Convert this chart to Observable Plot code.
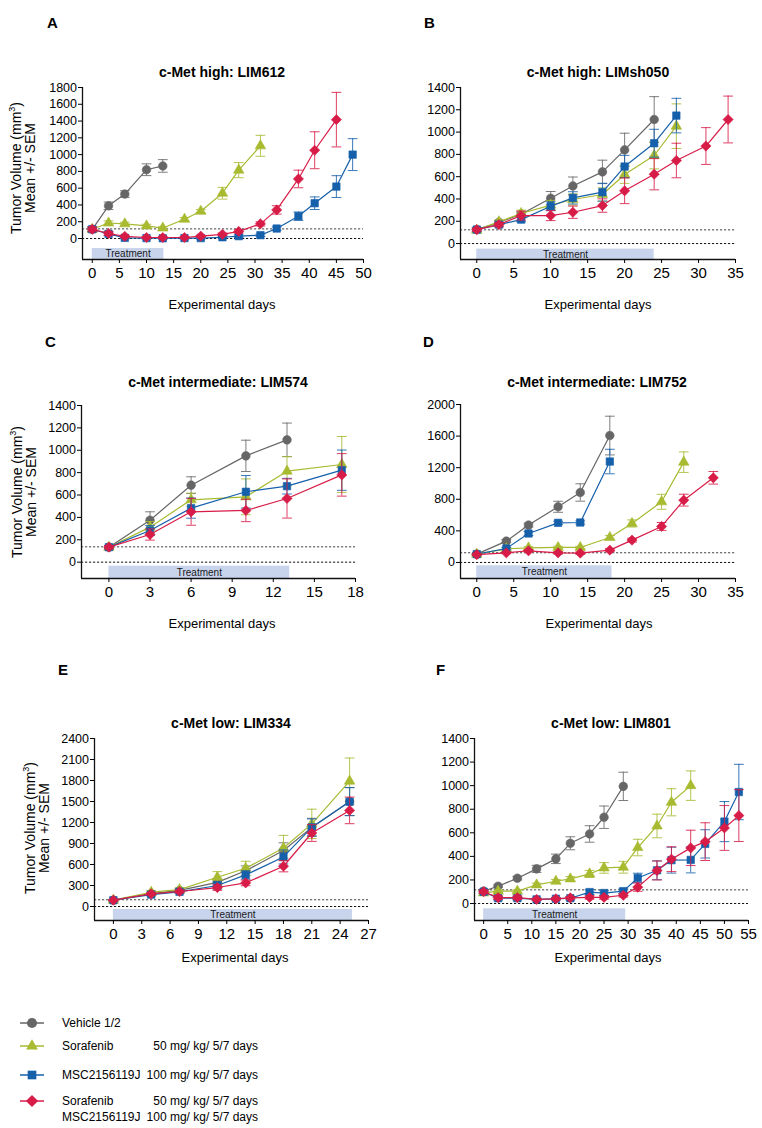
<!DOCTYPE html>
<html><head><meta charset="utf-8">
<script src="https://cdn.jsdelivr.net/npm/d3@7"></script>
<script src="https://cdn.jsdelivr.net/npm/@observablehq/plot@0.6"></script>
<style>
body{margin:0;background:#fff;font-family:"Liberation Sans",Arial,Helvetica,sans-serif;}
#page{position:relative;width:762px;height:1128px;overflow:hidden;background:#fff;}
.abs{position:absolute;white-space:nowrap;color:#000;line-height:1;}
.letter{font-weight:bold;font-size:15px;}
.title{font-weight:bold;font-size:14px;transform:translate(-50%,-50%);}
.xlab{font-size:13px;transform:translate(-50%,-50%);}
.ylab{font-size:14px;line-height:14px;text-align:center;transform:translate(-50%,-50%) rotate(-90deg);}
.ylab sup{font-size:9px;vertical-align:6px;line-height:0;}
.leg{font-size:12px;transform:translateY(-50%);}
.dose{font-size:12px;transform:translate(-100%,-50%);}
</style></head><body><div id="page"></div>
<script>
// ---------- DATA ----------
const seriesNames = ["Vehicle 1/2", "Sorafenib", "MSC2156119J", "Sorafenib + MSC2156119J"];

// Panel A: c-Met high: LIM612
const daysA = [0,3,6,10,13,17,20,24,27,31,34,38,41,45,48];
const vehA = [110,390,530,820,865];
const vehA_sem = [30,45,40,70,75];
const sorA = [110,185,175,150,125,230,325,540,815,1105];
const sorA_sem = [20,25,20,20,15,20,20,70,90,125];
const mscA = [110,55,8,5,3,5,5,15,28,40,119,266,421,619,1000];
const mscA_sem = [25,20,10,10,10,10,10,10,15,15,20,50,75,130,190];
const comA = [110,60,25,12,12,12,28,50,85,175,341,710,1052,1417];
const comA_sem = [30,25,15,10,10,10,10,15,20,25,50,105,220,325];

// Panel B: c-Met high: LIMsh050
const daysB = [0,3,6,10,13,17,20,24,27,31,34];
const vehB = [125,191,263,407,517,643,840,1113];
const vehB_sem = [15,15,20,60,80,105,150,205];
const sorB = [120,195,270,345,395,440,620,790,1053];
const sorB_sem = [15,15,30,40,50,60,80,120,200];
const mscB = [125,170,215,335,410,461,691,900,1148];
const mscB_sem = [15,15,20,40,55,80,100,125,155];
const comB = [125,170,251,251,281,341,473,622,745,875,1113];
const comB_sem = [15,20,40,45,55,60,115,140,155,165,210];

// Panel C: c-Met intermediate: LIM574
const daysC = [0,3,6,10,13,17];
const vehC = [134,375,688,950,1093];
const vehC_sem = [15,75,75,140,150];
const sorC = [134,313,557,584,813,873];
const sorC_sem = [15,50,60,160,130,250];
const mscC = [134,283,483,629,679,822];
const mscC_sem = [15,45,90,145,70,180];
const comC = [134,247,450,462,569,780];
const comC_sem = [15,50,120,100,175,190];

// Panel D: c-Met intermediate: LIM752
const daysD = [0,4,7,11,14,18,21,25,28,32];
const vehD = [105,270,473,705,886,1607];
const vehD_sem = [10,20,25,70,110,245];
const sorD = [105,173,185,190,190,316,494,768,1270];
const sorD_sem = [10,15,15,15,15,25,45,95,130];
const mscD = [105,177,367,502,506,1278];
const mscD_sem = [10,15,25,20,20,155];
const comD = [100,122,148,122,118,156,283,456,789,1072];
const comD_sem = [10,10,15,15,15,20,25,50,75,80];

// Panel E: c-Met low: LIM334
const daysE = [0,4,7,11,14,18,21,25];
const vehE = [90,185,230,345,510,800,1130,1500];
const vehE_sem = [10,20,25,50,70,110,130,200];
const sorE = [90,204,242,418,546,836,1180,1791];
const sorE_sem = [10,25,25,80,100,180,210,330];
const mscE = [90,170,210,300,451,708,1131,1497];
const mscE_sem = [10,20,20,50,60,100,120,200];
const comE = [90,181,214,271,337,575,1050,1373];
const comE_sem = [10,20,20,40,40,80,120,190];

// Panel F: c-Met low: LIM801
const daysF = [0,3,7,11,15,18,22,25,29,32,36,39,43,46,50,53];
const vehF = [105,147,215,294,379,511,590,732,994];
const vehF_sem = [10,10,15,30,40,55,70,95,120];
const sorF = [90,105,105,158,189,209,251,302,308,475,658,859,1000];
const sorF_sem = [10,10,10,15,15,20,30,45,50,70,100,115,125];
const mscF = [100,45,45,35,40,45,97,89,105,217,282,368,370,506,695,946];
const mscF_sem = [15,15,15,10,10,15,20,20,20,40,80,110,110,120,170,235];
const comF = [100,50,50,35,40,48,52,52,70,139,280,376,472,525,641,746];
const comF_sem = [15,15,15,10,10,10,15,15,15,35,80,105,150,160,190,220];

// Panel meta
const panelLetters = ["A","B","C","D","E","F"];
const panelTitles = ["c-Met high: LIM612","c-Met high: LIMsh050","c-Met intermediate: LIM574","c-Met intermediate: LIM752","c-Met low: LIM334","c-Met low: LIM801"];
const xTicksA = [0,5,10,15,20,25,30,35,40,45,50];
const xTicksB = [0,5,10,15,20,25,30,35];
const xTicksC = [0,3,6,9,12,15,18];
const xTicksD = [0,5,10,15,20,25,30,35];
const xTicksE = [0,3,6,9,12,15,18,21,24,27];
const xTicksF = [0,5,10,15,20,25,30,35,40,45,50,55];
const yTicksA = [0,200,400,600,800,1000,1200,1400,1600,1800];
const yTicksB = [0,200,400,600,800,1000,1200,1400];
const yTicksC = [0,200,400,600,800,1000,1200,1400];
const yTicksD = [0,400,800,1200,1600,2000];
const yTicksE = [0,300,600,900,1200,1500,1800,2100,2400];
const yTicksF = [0,200,400,600,800,1000,1200,1400];
const baselineVol = [115,123,137,123,96,116];
const treatStart = [0,0,0,0,0,0];
const treatEnd = [13.2,24,13.2,18.3,25.3,29.5];
const treatLabel = "Treatment";
const doseSor = "50 mg/ kg/ 5/7 days";
const doseMsc = "100 mg/ kg/ 5/7 days";

// ---------- STYLE / LAYOUT ----------
const colors = ["#666666","#a8ba30","#1560ab","#d81c48"];
const symbols = ["circle","triangle","square","diamond2"];
const radii = [4.3,3.9,4.2,4.6];
const font = "'Liberation Sans', Arial, Helvetica, sans-serif";
const capSymbol = {draw(ctx, size){ const w = Math.sqrt(size)/2; ctx.moveTo(-w,0); ctx.lineTo(w,0); }};

const layout = [
  {left:0,   frameL:82,  frameR:363, top:87,  bottom:259, xDom:[-1.8,50], yDom:[-250,1800], tTop:-119, xlab:[222,304], title:[222,72],  letter:[47,15],  ylab:[23,168]},
  {left:381, frameL:460, frameR:735, top:87,  bottom:259, xDom:[-2.2,35], yDom:[-143,1400], tTop:-50,  xlab:[598,304], title:[598,72],  letter:[424,15], ylab:null},
  {left:0,   frameL:81,  frameR:355, top:405, bottom:578, xDom:[-2,18],   yDom:[-146,1400], tTop:-36,  xlab:[222,623], title:[218,382], letter:[45,334], ylab:[24,492]},
  {left:381, frameL:460, frameR:735, top:404, bottom:578, xDom:[-2.2,35], yDom:[-203,2000], tTop:-42,  xlab:[599,623], title:[597,382], letter:[423,334], ylab:null},
  {left:0,   frameL:94,  frameR:368, top:738, bottom:920, xDom:[-2,27],   yDom:[-200,2400], tTop:-43,  xlab:[235,957], title:[231,723], letter:[58,662], ylab:[37,828]},
  {left:381, frameL:474, frameR:748, top:738, bottom:920, xDom:[-1.9,55], yDom:[-144,1400], tTop:-45,  xlab:[608,957], title:[611,723], letter:[436,662], ylab:null}
];

const panelData = [
  {days:daysA, s:[[vehA,vehA_sem],[sorA,sorA_sem],[mscA,mscA_sem],[comA,comA_sem]], xt:xTicksA, yt:yTicksA},
  {days:daysB, s:[[vehB,vehB_sem],[sorB,sorB_sem],[mscB,mscB_sem],[comB,comB_sem]], xt:xTicksB, yt:yTicksB},
  {days:daysC, s:[[vehC,vehC_sem],[sorC,sorC_sem],[mscC,mscC_sem],[comC,comC_sem]], xt:xTicksC, yt:yTicksC},
  {days:daysD, s:[[vehD,vehD_sem],[sorD,sorD_sem],[mscD,mscD_sem],[comD,comD_sem]], xt:xTicksD, yt:yTicksD},
  {days:daysE, s:[[vehE,vehE_sem],[sorE,sorE_sem],[mscE,mscE_sem],[comE,comE_sem]], xt:xTicksE, yt:yTicksE},
  {days:daysF, s:[[vehF,vehF_sem],[sorF,sorF_sem],[mscF,mscF_sem],[comF,comF_sem]], xt:xTicksF, yt:yTicksF}
];

const page = document.getElementById("page");
function addDiv(cls, html, x, y){
  const d = document.createElement("div");
  d.className = "abs " + cls;
  d.innerHTML = html;
  d.style.left = x + "px"; d.style.top = y + "px";
  page.appendChild(d);
  return d;
}

panelData.forEach((pd, i) => {
  const L = layout[i];
  const width = 381;
  const marginTop = 12, marginBottom = 34;
  const height = (L.bottom - L.top) + marginTop + marginBottom;
  const treat = [{x1:treatStart[i], x2:treatEnd[i], y1:L.yDom[0], y2:L.tTop}];
  const marks = [
    Plot.rect(treat, {x1:"x1", x2:"x2", y1:"y1", y2:"y2", fill:"#c8d4ec"}),
    Plot.text(treat, {x:d => (d.x1+d.x2)/2, y:d => (d.y1+d.y2)/2, text:() => treatLabel, fontSize:10, fill:"#1a1a1a"}),
    Plot.ruleY([0], {stroke:"#111", strokeDasharray:"2.2,1.8", strokeWidth:1}),
    Plot.ruleY([baselineVol[i]], {stroke:"#444", strokeDasharray:"2.2,1.8", strokeWidth:1}),
    Plot.ruleX([L.xDom[0]], {stroke:"#111", strokeWidth:1.3}),
    Plot.ruleY([L.yDom[0]], {stroke:"#111", strokeWidth:1.3}),
    Plot.axisY({ticks:pd.yt, tickSize:4, tickPadding:1.5, fontSize:12.5, label:null, tickFormat:d => String(d)}),
    Plot.axisX({ticks:pd.xt, tickSize:4, tickPadding:4, fontSize:15, label:null, tickFormat:d => String(d)})
  ];
  pd.s.forEach(([vals, sems], k) => {
    const rows = vals.map((v, j) => ({day:pd.days[j], v, e:sems[j]}));
    const c = colors[k];
    marks.push(
      Plot.ruleX(rows, {x:"day", y1:d => d.v - d.e, y2:d => d.v + d.e, stroke:c, strokeWidth:1, strokeOpacity:0.85}),
      Plot.dot(rows, {x:"day", y:d => d.v + d.e, symbol:capSymbol, r:5.5, stroke:c, fill:"none", strokeWidth:1, strokeOpacity:0.85}),
      Plot.dot(rows, {x:"day", y:d => d.v - d.e, symbol:capSymbol, r:5.5, stroke:c, fill:"none", strokeWidth:1, strokeOpacity:0.85}),
      Plot.line(rows, {x:"day", y:"v", stroke:c, strokeWidth:1.2}),
      Plot.dot(rows, {x:"day", y:"v", symbol:symbols[k], r:radii[k], fill:c, stroke:c, strokeWidth:0.6})
    );
  });
  const svg = Plot.plot({
    width, height,
    marginLeft: L.frameL - L.left,
    marginRight: L.left + width - L.frameR,
    marginTop, marginBottom,
    x:{domain:L.xDom},
    y:{domain:L.yDom},
    style:{fontFamily:font, color:"#000", background:"transparent", overflow:"visible"},
    marks
  });
  svg.style.position = "absolute";
  svg.style.left = L.left + "px";
  svg.style.top = (L.top - marginTop) + "px";
  page.appendChild(svg);

  addDiv("letter", panelLetters[i], L.letter[0], L.letter[1]);
  addDiv("title", panelTitles[i], L.title[0], L.title[1]);
  addDiv("xlab", "Experimental days", L.xlab[0], L.xlab[1]);
  if (L.ylab) addDiv("ylab", "Tumor Volume (mm<sup>3</sup>)<br>Mean +/- SEM", L.ylab[0], L.ylab[1]);
});

// ---------- LEGEND ----------
const legRows = [1023, 1046, 1075, 1101];
const legSvg = d3.create("svg").attr("width", 60).attr("height", 110)
  .style("position","absolute").style("left","0px").style("top","1010px");
const d3sym = [d3.symbolCircle, d3.symbolTriangle, d3.symbolSquare, d3.symbolDiamond2];
const legSizes = [80, 60, 75, 95];
legRows.forEach((y, k) => {
  const yy = y - 1010;
  legSvg.append("line").attr("x1",20).attr("x2",44).attr("y1",yy).attr("y2",yy)
    .attr("stroke",colors[k]).attr("stroke-width",1.5);
  legSvg.append("path").attr("d", d3.symbol().type(d3sym[k]).size(legSizes[k])())
    .attr("transform",`translate(32,${yy})`).attr("fill",colors[k]);
});
page.appendChild(legSvg.node());
addDiv("leg", seriesNames[0], 62, legRows[0]);
addDiv("leg", "Sorafenib", 62, legRows[1]);
addDiv("dose", doseSor, 258, legRows[1]);
addDiv("leg", "MSC2156119J", 62, legRows[2]);
addDiv("dose", doseMsc, 258, legRows[2]);
addDiv("leg", "Sorafenib", 62, legRows[3]);
addDiv("dose", doseSor, 258, legRows[3]);
addDiv("leg", "MSC2156119J", 62, 1117);
addDiv("dose", doseMsc, 258, 1117);
</script>
</body></html>
